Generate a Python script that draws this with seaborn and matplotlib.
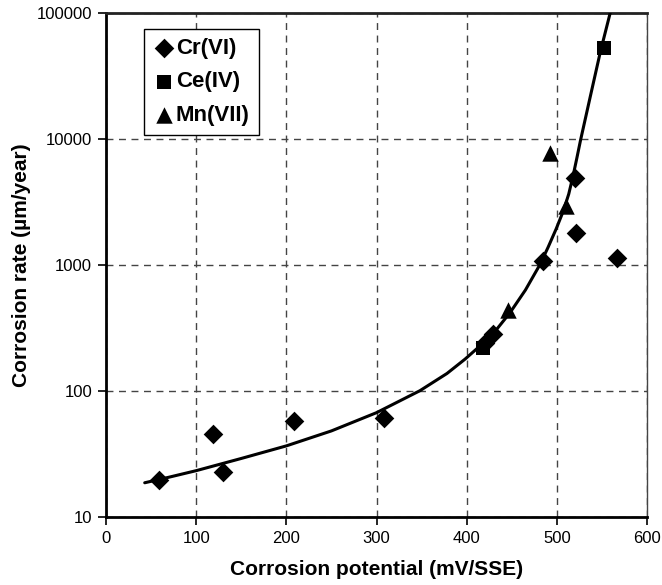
import matplotlib
matplotlib.use("Agg")
import matplotlib.pyplot as plt
import seaborn as sns
import pandas as pd
from matplotlib.ticker import FixedLocator, FixedFormatter, NullLocator

# Data points
cr_x = [59, 119, 130, 208, 308, 420, 429, 485, 520, 521, 567]
cr_y = [19.6, 45, 22.5, 57.5, 60.5, 240, 282, 1080, 4900, 1780, 1140]
ce_x = [418, 552]
ce_y = [220, 52000]
mn_x = [446, 492, 510]
mn_y = [440, 7700, 2950]

# Trend curve
curve_x = [43, 70, 100, 150, 200, 250, 300, 348, 378, 398, 415, 430, 448, 465,
           481, 490, 499, 507, 513, 518, 522, 526, 537, 548, 559]
curve_y = [18.6, 20.6, 23.2, 29.0, 36.5, 48, 67, 100, 137, 178, 228, 288, 417, 630,
           1000, 1370, 1920, 2670, 3640, 5150, 7030, 9680, 21800, 48800, 100000]

x_ticks = [0, 100, 200, 300, 400, 500, 600]
y_ticks = [10, 100, 1000, 10000, 100000]
y_tick_labels = ["10", "100", "1000", "10000", "100000"]

series = ["Cr(VI)", "Ce(IV)", "Mn(VII)"]
cr = pd.DataFrame({"x": cr_x, "y": cr_y})
ce = pd.DataFrame({"x": ce_x, "y": ce_y})
mn = pd.DataFrame({"x": mn_x, "y": mn_y})
curve = pd.DataFrame({"x": curve_x, "y": curve_y})

sns.set_style("white")
plt.rcParams["font.family"] = ["Liberation Sans", "DejaVu Sans"]
plt.rcParams["text.color"] = "black"
plt.rcParams["axes.labelcolor"] = "black"
plt.rcParams["xtick.color"] = "black"
plt.rcParams["ytick.color"] = "black"

fig = plt.figure(figsize=(6.62, 5.85), dpi=100)
ax = fig.add_axes([0.16, 0.1167, 0.8177, 0.8616])

sns.lineplot(data=curve, x="x", y="y", ax=ax, color="black", linewidth=2.2,
             legend=False, sort=False, zorder=3)
sns.scatterplot(data=cr, x="x", y="y", ax=ax, marker="D", s=100, color="black",
                linewidth=0, zorder=4, label=series[0])
sns.scatterplot(data=ce, x="x", y="y", ax=ax, marker="s", s=115, color="black",
                linewidth=0, zorder=4, label=series[1])
sns.scatterplot(data=mn, x="x", y="y", ax=ax, marker="^", s=140, color="black",
                linewidth=0, zorder=4, label=series[2])

ax.set_yscale("log")
ax.set_xlim(0, 600)
ax.set_ylim(10, 100000)
ax.xaxis.set_major_locator(FixedLocator(x_ticks))
ax.yaxis.set_major_locator(FixedLocator(y_ticks))
ax.yaxis.set_major_formatter(FixedFormatter(y_tick_labels))
ax.yaxis.set_minor_locator(NullLocator())

ax.grid(True, which="major", linestyle=(0, (5, 4)), color="#444444", linewidth=1.0)
ax.set_axisbelow(True)

for side in ["left", "bottom"]:
    ax.spines[side].set_linewidth(2.0)
    ax.spines[side].set_color("black")
ax.spines["top"].set_linewidth(2.0)
ax.spines["top"].set_color("#222222")
ax.spines["right"].set_linewidth(1.0)
ax.spines["right"].set_color("#444444")

ax.tick_params(axis="both", which="major", direction="out", length=6, width=1.2,
               labelsize=12, color="black", labelcolor="black",
               bottom=True, left=True, pad=4)

ax.set_xlabel("Corrosion potential (mV/SSE)", fontsize=15, fontweight="bold",
              labelpad=10, color="black")
ax.set_ylabel("Corrosion rate (µm/year)", fontsize=15, fontweight="bold",
              labelpad=4, color="black")

leg = ax.legend(loc="upper left", bbox_to_anchor=(0.0695, 0.967), borderaxespad=0,
                frameon=True, fancybox=False, edgecolor="black", framealpha=1,
                prop={"weight": "bold", "size": 16}, handletextpad=0.05,
                handlelength=1.0, labelspacing=0.55, borderpad=0.4,
                scatterpoints=1)
leg.get_frame().set_linewidth(1.0)
for t in leg.get_texts():
    t.set_color("black")

fig.savefig("out.png", dpi=100)
